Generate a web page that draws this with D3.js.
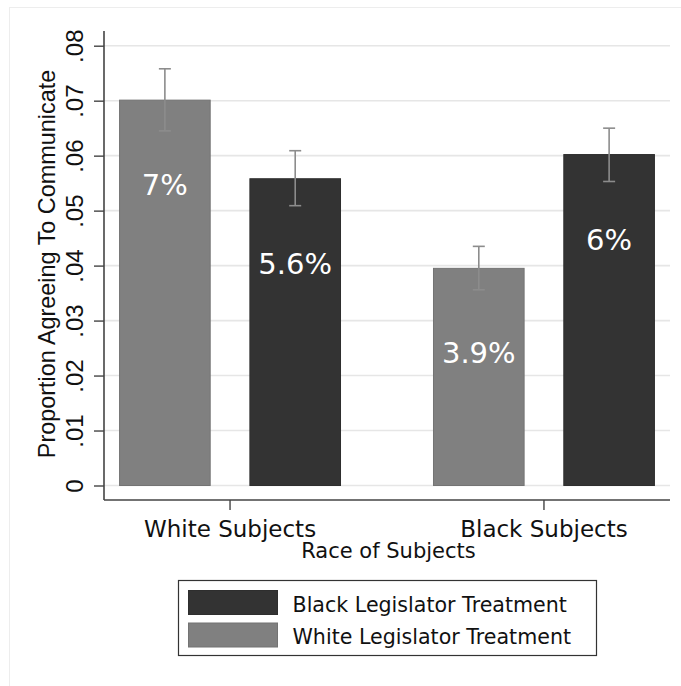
<!DOCTYPE html>
<html>
<head>
<meta charset="utf-8">
<script src="https://cdn.jsdelivr.net/npm/d3@7"></script>
<style>
  body { margin: 0; background: #fff; }
  svg { display: block; }
</style>
</head>
<body>
<svg id="chart" width="681" height="686"></svg>
<script>
// data
const groups = ['White Subjects', 'Black Subjects']
const treatments = ['White Legislator Treatment', 'Black Legislator Treatment']
const means = [[0.0701, 0.0558], [0.0395, 0.0602]]
const lower = [[0.0645, 0.0509], [0.0356, 0.0553]]
const upper = [[0.0758, 0.0609], [0.0435, 0.0650]]
const barLabels = [['7%', '5.6%'], ['3.9%', '6%']]
const yTicks = [0, 0.01, 0.02, 0.03, 0.04, 0.05, 0.06, 0.07, 0.08]
const legendOrder = ['Black Legislator Treatment', 'White Legislator Treatment']

const colors = {
  'White Legislator Treatment': '#808080',
  'Black Legislator Treatment': '#333333'
}

const svg = d3.select('#chart')
const sans = 'Liberation Sans, Arial, sans-serif'
const grande = 'DejaVu Sans, sans-serif'

// outer frame (stata graph region)
svg.append('rect')
  .attr('x', 9.5).attr('y', 7.5)
  .attr('width', 720).attr('height', 720)
  .attr('fill', 'none')
  .attr('stroke', '#ededed')

const left = 104, right = 670, axisY = 500

const y = d3.scaleLinear().domain([0, 0.08]).range([485.5, 45.7])

const x0 = d3.scaleBand()
  .domain(groups)
  .range([left, right])
  .paddingInner(0.293)
  .paddingOuter(0.048)

const x1 = d3.scaleBand()
  .domain(treatments)
  .range([0, x0.bandwidth()])
  .paddingInner(0.297)

// gridlines
svg.append('g').selectAll('line').data(yTicks).join('line')
  .attr('x1', left).attr('x2', right)
  .attr('y1', d => y(d)).attr('y2', d => y(d))
  .attr('stroke', '#e6e6e6')
  .attr('stroke-width', 1.6)

// y axis
const yAxis = svg.append('g')
  .attr('transform', `translate(${left},0)`)
  .call(d3.axisLeft(y).tickValues(yTicks).tickSize(10)
    .tickFormat(d => d === 0 ? '0' : d3.format('.2f')(d).replace(/^0/, '')))
yAxis.select('.domain').remove()
yAxis.selectAll('.tick line').attr('stroke', '#444').attr('stroke-width', 1.4)
yAxis.selectAll('.tick text')
  .attr('transform', 'rotate(-90)')
  .attr('x', 0).attr('y', -21)
  .attr('dy', 0)
  .attr('text-anchor', 'middle')
  .style('font-family', sans)
  .style('font-size', '24px')
  .attr('fill', '#111')

svg.append('line')
  .attr('x1', left).attr('x2', left)
  .attr('y1', 31).attr('y2', axisY)
  .attr('stroke', '#444').attr('stroke-width', 1.6)

// x axis
svg.append('line')
  .attr('x1', left).attr('x2', right)
  .attr('y1', axisY).attr('y2', axisY)
  .attr('stroke', '#444').attr('stroke-width', 1.6)

const xTicks = svg.append('g').selectAll('g').data(groups).join('g')
  .attr('transform', d => `translate(${x0(d) + x0.bandwidth() / 2},${axisY})`)
xTicks.append('line')
  .attr('y1', 0).attr('y2', 10)
  .attr('stroke', '#444').attr('stroke-width', 1.4)
xTicks.append('text')
  .attr('y', 37)
  .attr('text-anchor', 'middle')
  .style('font-family', grande)
  .style('font-size', '23px')
  .attr('fill', '#111')
  .text(d => d)

// axis titles
svg.append('text')
  .attr('transform', 'translate(55,264) rotate(-90)')
  .attr('text-anchor', 'middle')
  .style('font-family', sans)
  .style('font-size', '23.4px')
  .attr('fill', '#111')
  .text('Proportion Agreeing To Communicate')

svg.append('text')
  .attr('x', 388.5).attr('y', 558)
  .attr('text-anchor', 'middle')
  .style('font-family', grande)
  .style('font-size', '21px')
  .attr('fill', '#111')
  .text('Race of Subjects')

// bars
const rows = []
groups.forEach((g, i) => {
  treatments.forEach((t, j) => {
    rows.push({ group: g, treat: t, v: means[i][j], lo: lower[i][j], hi: upper[i][j], label: barLabels[i][j] })
  })
})

const barG = svg.append('g').selectAll('g.bar').data(rows).join('g')
  .attr('class', 'bar')
  .attr('transform', d => `translate(${x0(d.group) + x1(d.treat)},0)`)

barG.append('rect')
  .attr('x', 0.5)
  .attr('width', x1.bandwidth() - 1)
  .attr('y', d => y(d.v))
  .attr('height', d => y(0) - y(d.v))
  .attr('fill', d => colors[d.treat])
  .attr('stroke', d => d3.color(colors[d.treat]).darker(0.3))
  .attr('stroke-width', 1)

barG.append('text')
  .attr('x', x1.bandwidth() / 2)
  .attr('y', d => y(d.v) + 95)
  .attr('text-anchor', 'middle')
  .style('font-family', grande)
  .style('font-size', '29px')
  .attr('fill', '#fff')
  .text(d => d.label)

// confidence intervals
const cx = x1.bandwidth() / 2
const capW = 6
barG.append('line')
  .attr('x1', cx).attr('x2', cx)
  .attr('y1', d => y(d.lo)).attr('y2', d => y(d.hi))
barG.append('line')
  .attr('x1', cx - capW).attr('x2', cx + capW)
  .attr('y1', d => y(d.hi)).attr('y2', d => y(d.hi))
barG.append('line')
  .attr('x1', cx - capW).attr('x2', cx + capW)
  .attr('y1', d => y(d.lo)).attr('y2', d => y(d.lo))
barG.selectAll('line')
  .attr('stroke', '#8c8c8c')
  .attr('stroke-width', 1.6)

// legend
const legend = svg.append('g').attr('transform', 'translate(178.5,580.5)')
legend.append('rect')
  .attr('width', 418).attr('height', 75)
  .attr('fill', '#fff')
  .attr('stroke', '#333').attr('stroke-width', 1.2)

const item = legend.selectAll('g.item').data(legendOrder).join('g')
  .attr('class', 'item')
  .attr('transform', (_, i) => `translate(10,${10 + i * 32.5})`)
item.append('rect')
  .attr('width', 89).attr('height', 24)
  .attr('fill', d => colors[d])
  .attr('stroke', d => d3.color(colors[d]).darker(0.3))
item.append('text')
  .attr('x', 104).attr('y', 21)
  .style('font-family', grande)
  .style('font-size', '20.6px')
  .attr('fill', '#111')
  .text(d => d)
</script>
</body>
</html>
